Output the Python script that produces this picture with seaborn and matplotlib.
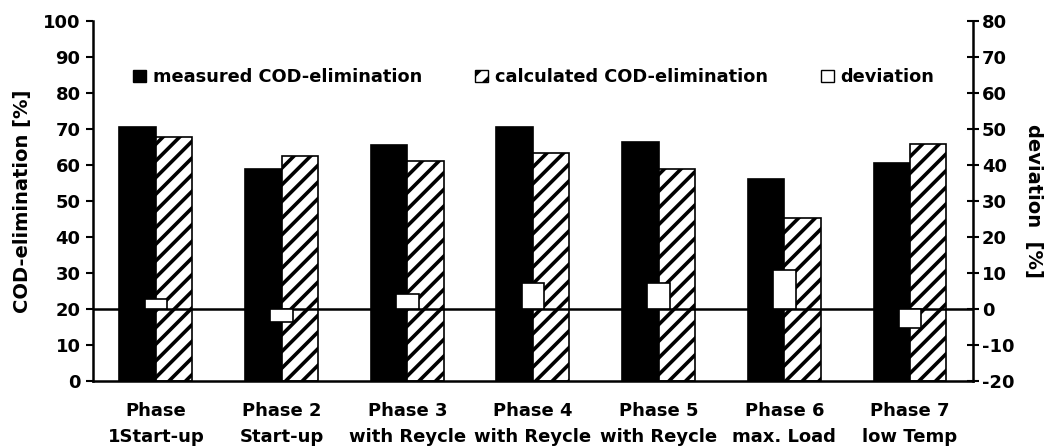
import matplotlib
matplotlib.use("Agg")
import matplotlib.pyplot as plt
import seaborn as sns
import pandas as pd
from matplotlib.patches import Patch

phases = ["Phase\n1Start-up", "Phase 2\nStart-up", "Phase 3\nwith Reycle",
          "Phase 4\nwith Reycle", "Phase 5\nwith Reycle", "Phase 6\nmax. Load",
          "Phase 7\nlow Temp"]
measured = [70.6, 58.8, 65.6, 70.6, 66.4, 56.0, 60.5]
calculated = [67.7, 62.5, 61.1, 63.4, 59.0, 45.2, 65.9]
deviation = [2.8, -3.7, 4.2, 7.1, 7.1, 10.8, -5.2]

sns.set_style("white")
plt.rcParams["font.family"] = ["DejaVu Sans"]
plt.rcParams["font.weight"] = "bold"
plt.rcParams["hatch.linewidth"] = 2.6
plt.rcParams["axes.unicode_minus"] = False
plt.rcParams["text.color"] = "black"
plt.rcParams["axes.labelcolor"] = "black"
plt.rcParams["xtick.color"] = "black"
plt.rcParams["ytick.color"] = "black"

df = pd.DataFrame({
    "phase": phases * 2,
    "value": measured + calculated,
    "kind": ["measured"] * 7 + ["calculated"] * 7,
})

fig = plt.figure(figsize=(10.46, 4.48), dpi=100)
ax = fig.add_axes([0.089, 0.150, 0.841, 0.803])

sns.barplot(data=df, x="phase", y="value", hue="kind", order=phases,
            hue_order=["measured", "calculated"],
            palette=["black", "white"], width=0.58, gap=0,
            edgecolor="black", linewidth=1.2, legend=False, ax=ax)
for bar in ax.containers[1]:
    bar.set_hatch("//")

ax.set_ylim(0, 100)
ax.set_xlim(-0.5, 6.5)
ax.set_yticks(range(0, 101, 10))
ax.set_ylabel("COD-elimination [%]", fontsize=14, fontweight="bold", labelpad=8)
ax.set_xlabel("")
ax.set_xticks([i - 0.5 for i in range(8)])
ax.set_xticklabels([])
ax.set_xticks(range(7), minor=True)
ax.set_xticklabels(phases, minor=True, fontsize=13, fontweight="bold",
                   linespacing=1.6)
ax.tick_params(axis="x", which="major", direction="out", length=5, width=1.5)
ax.tick_params(axis="x", which="minor", length=0, pad=15)
ax.tick_params(axis="y", direction="out", length=5, width=1.5, left=True,
               labelsize=13, pad=4)
for s in ["left", "bottom"]:
    ax.spines[s].set_linewidth(1.8)
    ax.spines[s].set_color("black")
ax.spines["top"].set_visible(False)
ax.spines["right"].set_visible(False)

ax2 = ax.twinx()
ax2.axhline(0, color="black", lw=1.8, zorder=1)
sns.barplot(x=phases, y=deviation, order=phases, color="white",
            edgecolor="black", linewidth=1.2, width=0.18, ax=ax2, zorder=3)
ax2.set_ylim(-20, 80)
ax2.set_xlim(-0.5, 6.5)
ax2.set_yticks(range(-20, 81, 10))
ax2.tick_params(axis="x", which="both", bottom=False, labelbottom=False)
ax2.set_ylabel("deviation  [%]", fontsize=14, fontweight="bold", rotation=270,
               va="bottom", labelpad=7)
ax2.tick_params(axis="y", direction="inout", length=9, width=1.5, right=True,
                labelsize=13, pad=2)
for s in ["top", "left", "bottom"]:
    ax2.spines[s].set_visible(False)
ax2.spines["right"].set_linewidth(1.8)
ax2.spines["right"].set_color("black")

handles = [Patch(facecolor="black", edgecolor="black"),
           Patch(facecolor="white", edgecolor="black", hatch="//"),
           Patch(facecolor="white", edgecolor="black")]
ax2.legend(handles, ["measured COD-elimination", "calculated COD-elimination",
                     "deviation"],
           loc="center", bbox_to_anchor=(0.501, 0.844), ncol=3, frameon=False,
           handlelength=0.7, handleheight=0.7, handletextpad=0.4,
           columnspacing=3.0, prop={"size": 12.8, "weight": "bold"})

fig.savefig("out.png", dpi=100)
